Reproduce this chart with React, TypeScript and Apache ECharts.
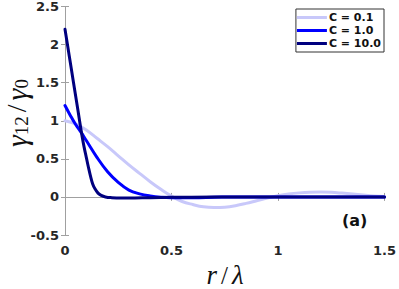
import React, { useEffect, useRef } from "react";
import * as echarts from "echarts";

const legendNames = ["C = 0.1", "C = 1.0", "C = 10.0"];
const seriesColors = ["#c8c8fa", "#0000ff", "#00007f"];

const rLight = [0, 0.05, 0.1, 0.15, 0.2, 0.25, 0.3, 0.35, 0.4, 0.45, 0.5, 0.55, 0.6, 0.65, 0.7, 0.75, 0.8, 0.85, 0.9, 0.95, 1.0, 1.05, 1.1, 1.15, 1.2, 1.25, 1.3, 1.35, 1.4, 1.45, 1.5];
const gLight = [1.0, 0.96, 0.88, 0.77, 0.66, 0.54, 0.42, 0.31, 0.2, 0.1, 0.01, -0.06, -0.1, -0.13, -0.14, -0.135, -0.115, -0.085, -0.05, -0.015, 0.015, 0.038, 0.053, 0.062, 0.064, 0.06, 0.05, 0.038, 0.025, 0.013, 0.004];

const rMid = [0, 0.025, 0.05, 0.075, 0.1, 0.15, 0.2, 0.25, 0.3, 0.35, 0.4, 0.45, 0.5, 0.6, 0.7, 0.8, 1.0, 1.5];
const gMid = [1.2, 1.07, 0.95, 0.85, 0.74, 0.52, 0.33, 0.19, 0.09, 0.04, 0.012, -0.004, -0.01, -0.01, -0.005, 0, 0, 0];

const rDark = [0, 0.02, 0.04, 0.06, 0.08, 0.09, 0.1, 0.11, 0.12, 0.13, 0.14, 0.155, 0.17, 0.19, 0.22, 0.26, 0.3, 0.4, 0.5, 0.7, 1.0, 1.5];
const gDark = [2.2, 1.85, 1.5, 1.15, 0.8, 0.65, 0.52, 0.39, 0.27, 0.17, 0.11, 0.05, 0.02, 0.0, -0.01, -0.015, -0.015, -0.01, -0.005, 0, 0, 0];

const xTicks = { min: 0, max: 1.5, interval: 0.5 };
const yTicks = { min: -0.5, max: 2.5, interval: 0.5 };

const zip = (xs: number[], ys: number[]) => xs.map((x, i) => [x, ys[i]]);

export default function App() {
  const ref = useRef<HTMLDivElement>(null);
  useEffect(() => {
    document.body.style.margin = "0";
    if (!ref.current) return;
    const chart = echarts.init(ref.current, null, { renderer: "svg" });
    const axisColor = "#a0a0a0";
    const labelStyle = {
      fontFamily: "DejaVu Sans",
      fontWeight: "bold" as const,
      fontSize: 13,
      color: "#262626",
    };
    const datasets = [zip(rLight, gLight), zip(rMid, gMid), zip(rDark, gDark)];
    chart.setOption({
      animation: false,
      backgroundColor: "#ffffff",
      grid: { left: 65, top: 5, right: 11, bottom: 54, containLabel: false },
      legend: {
        right: 15,
        top: 9,
        orient: "vertical",
        data: legendNames,
        icon: "rect",
        itemWidth: 30,
        itemHeight: 3,
        itemGap: 2,
        padding: [3, 3, 3, 1],
        backgroundColor: "#ffffff",
        borderColor: "#333333",
        borderWidth: 1,
        borderRadius: 0,
        textStyle: {
          fontFamily: "DejaVu Sans",
          fontWeight: "bold",
          fontSize: 11,
          color: "#111111",
          padding: [0, 0, 0, -3],
        },
      },
      xAxis: [
        {
          type: "value",
          ...xTicks,
          position: "bottom",
          axisLine: { show: true, lineStyle: { color: axisColor, width: 1 } },
          axisTick: { show: true, inside: true, length: 4, lineStyle: { color: axisColor } },
          splitLine: { show: false },
          axisLabel: { ...labelStyle, margin: 9 },
        },
        {
          type: "value",
          ...xTicks,
          position: "top",
          axisLine: { show: true, lineStyle: { color: axisColor, width: 1 } },
          axisTick: { show: true, inside: true, length: 4, lineStyle: { color: axisColor } },
          splitLine: { show: false },
          axisLabel: { show: false },
        },
      ],
      yAxis: [
        {
          type: "value",
          ...yTicks,
          position: "left",
          axisLine: { show: true, lineStyle: { color: axisColor, width: 1 } },
          axisTick: { show: true, inside: true, length: 4, lineStyle: { color: axisColor } },
          splitLine: { show: false },
          axisLabel: { ...labelStyle, margin: 6 },
        },
        {
          type: "value",
          ...yTicks,
          position: "right",
          axisLine: { show: true, lineStyle: { color: axisColor, width: 1 } },
          axisTick: { show: true, inside: true, length: 4, lineStyle: { color: axisColor } },
          splitLine: { show: false },
          axisLabel: { show: false },
        },
      ],
      series: datasets.map((d, i) => ({
        type: "line",
        name: legendNames[i],
        data: d,
        xAxisIndex: 0,
        yAxisIndex: 0,
        showSymbol: false,
        symbol: "none",
        smooth: 0.4,
        color: seriesColors[i],
        lineStyle: { width: 3, color: seriesColors[i], cap: "round", join: "round" },
        z: 2 + i,
      })),
      graphic: [
        {
          type: "text",
          left: 342,
          top: 212,
          style: {
            text: "(a)",
            fontFamily: "DejaVu Sans",
            fontWeight: "bold",
            fontSize: 16,
            fill: "#111111",
          },
          z: 100,
        },
        {
          type: "text",
          x: 225,
          y: 275,
          style: {
            text: "{i|r}{n|/}{i|λ}",
            align: "center",
            verticalAlign: "middle",
            rich: {
              i: { fontFamily: "Liberation Serif", fontStyle: "italic", fontSize: 27, fill: "#111111" },
              n: { fontFamily: "Liberation Serif", fontSize: 25, fill: "#111111", padding: [0, 4, 0, 4] },
            },
          },
          z: 100,
        },
        {
          type: "text",
          x: 16,
          y: 113,
          rotation: Math.PI / 2,
          style: {
            text: "{i|γ}{s|12}{n|/}{i|γ}{s|0}",
            align: "center",
            verticalAlign: "middle",
            rich: {
              i: { fontFamily: "Liberation Serif", fontStyle: "italic", fontSize: 30, fill: "#111111" },
              s: { fontFamily: "Liberation Serif", fontSize: 19, fill: "#111111", verticalAlign: "bottom", padding: [10, 0, 0, 0] },
              n: { fontFamily: "Liberation Serif", fontSize: 28, fill: "#111111", padding: [0, 4, 0, 4] },
            },
          },
          z: 100,
        },
      ],
    });
    return () => chart.dispose();
  }, []);
  return <div ref={ref} style={{ width: 399, height: 289 }} />;
}
